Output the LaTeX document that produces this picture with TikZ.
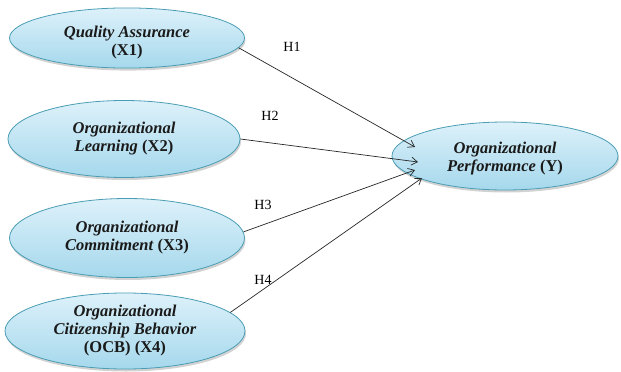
\documentclass[tikz,border=0pt]{standalone}
\usepackage{fontspec}
\setmainfont{Liberation Serif}
\usetikzlibrary{shapes.geometric,arrows.meta,calc,shadows}
\definecolor{elltop}{HTML}{DDF1FA}
\definecolor{ellbot}{HTML}{A5D8EC}
\definecolor{ellline}{HTML}{4A9DB3}
\definecolor{txt}{HTML}{1A1A1A}
\tikzset{
  var/.style={ellipse, draw=ellline, line width=0.8pt, top color=elltop, bottom color=ellbot,
    inner sep=0pt, align=center, text=txt, font=\fontsize{16.5}{18}\selectfont\bfseries,
    drop shadow={shadow xshift=1pt, shadow yshift=-2.5pt, fill=black!35, opacity=0.5}},
  link/.style={draw=black!85, line width=0.7pt, -{Straight Barb[length=6pt,width=8pt]}},
  hyp/.style={font=\fontsize{14}{16}\selectfont, inner sep=2pt}
}
\begin{document}
\begin{tikzpicture}[x=1pt,y=-1pt]
\useasboundingbox (0,0) rectangle (621,372);
\node[var, minimum width=235pt, minimum height=60pt] (x1) at (127,38) {\rule{0pt}{21pt}\textit{Quality Assurance}\\(X1)};
\node[var, minimum width=232pt, minimum height=77pt] (x2) at (124,139) {\textit{Organizational}\\\textit{Learning} (X2)};
\node[var, minimum width=235pt, minimum height=79pt] (x3) at (127,238) {\textit{Organizational}\\\textit{Commitment} (X3)};
\node[var, minimum width=240pt, minimum height=76pt] (x4) at (125,331) {\textit{Organizational}\\\textit{Citizenship Behavior}\\(OCB) (X4)};
\node[var, minimum width=226pt, minimum height=68pt] (y) at (505,156) {\rule{0pt}{16pt}\textit{Organizational}\\\textit{Performance} (Y)};
\draw[link] (x1.-5) -- ($(y.center)+(-90,-9)$);
\draw[link] (x2.0) -- ($(y.center)+(-87,6)$);
\draw[link] (x3.3) -- ($(y.center)+(-90,14)$);
\draw[link] (x4.10) -- ($(y.center)+(-83,22)$);
\node[hyp] (h1) at (292,47) {H1};
\node[hyp] (h2) at (270,116) {H2};
\node[hyp] (h3) at (263,205) {H3};
\node[hyp] (h4) at (263,280) {H4};
\end{tikzpicture}
\end{document}
